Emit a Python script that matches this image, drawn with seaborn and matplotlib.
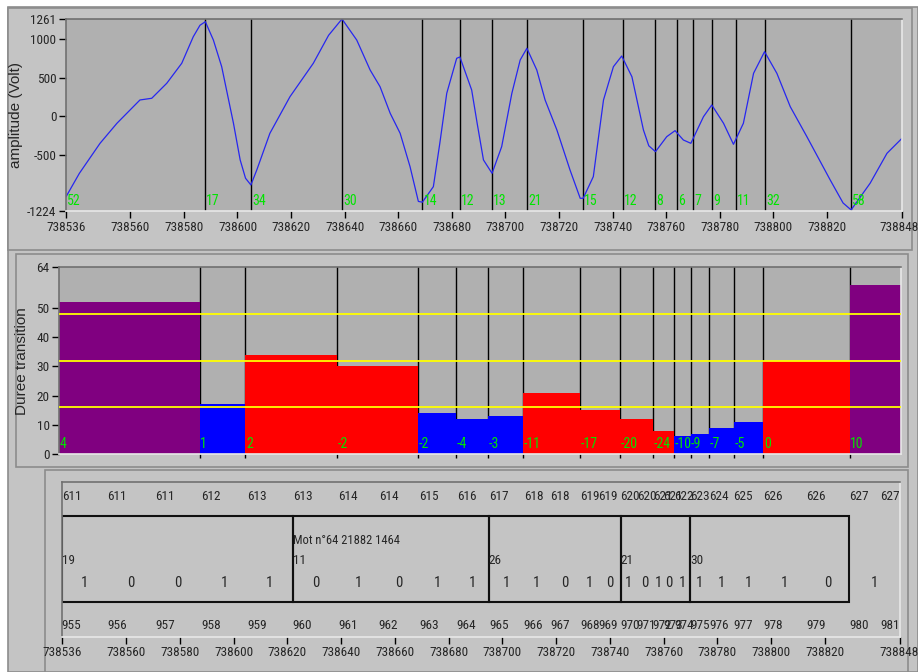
import matplotlib
matplotlib.use("Agg")
import pandas as pd
import seaborn as sns
import matplotlib.pyplot as plt
from matplotlib.patches import Rectangle
from matplotlib import font_manager
from matplotlib.transforms import ScaledTranslation

# ---- waveform (sample position, amplitude in Volt) ----
sample_pos = [738536, 738541, 738548.7, 738555, 738563.6, 738568, 738573.6, 738579.2,
              738583.5, 738586, 738588, 738591, 738594.1, 738598.5, 738601, 738603,
              738605, 738607.2, 738612.1, 738619.6, 738628.3, 738634, 738639, 738644.5,
              738649.5, 738653.2, 738657, 738660.7, 738664.4, 738667.5, 738669, 738673.1,
              738675.5, 738678.1, 738681.8, 738683, 738687.4, 738689.5, 738691.8, 738695,
              738698.6, 738702.4, 738705.5, 738708, 738711.7, 738714.8, 738719.2, 738724.1,
              738727.9, 738729, 738732.8, 738734.7, 738736.6, 738740.3, 738743.4, 738747.2,
              738751.5, 738753.5, 738756, 738760.2, 738763.3, 738766.4, 738769.2, 738773.9,
              738777, 738781.4, 738785.1, 738788.8, 738792.6, 738796.7, 738801.3, 738806.3,
              738812.5, 738821.2, 738826, 738829, 738836.1, 738842.4, 738848]
amplitude = [-1040, -736, -348, -89, 213, 235, 429, 688,
             1032, 1180, 1226, 989, 644, -89, -563, -800,
             -887, -693, -218, 256, 688, 1050, 1261, 989,
             601, 385, 40, -218, -650, -1100, -1110, -909,
             -350, 300, 752, 770, 342, -100, -563, -736,
             -391, 300, 730, 882, 601, 213, -175, -693,
             -1059, -1060, -779, -280, 213, 644, 782, 514,
             -175, -380, -456, -262, -184, -305, -348, -4,
             148, -89, -361, -89, 558, 838, 558, 126,
             -262, -822, -1120, -1210, -865, -477, -283]

# extrema found on the signal and distance to the next one
crossings = [738588, 738605, 738639, 738669, 738683, 738695, 738708, 738729,
             738744, 738756, 738764, 738770, 738777, 738786, 738797, 738829]
durations = [52, 17, 34, 30, 14, 12, 13, 21, 15, 12, 8, 6, 7, 9, 11, 32, 58]

# transition bars
bar_heights = [52, 17, 34, 30, 14, 12, 13, 21, 15, 12, 8, 6, 7, 9, 11, 32, 58]
bar_kind = ["long", "short", "mid", "mid", "short", "short", "short", "mid", "mid",
            "mid", "mid", "short", "short", "short", "short", "mid", "long"]
bar_labels = [4, 1, 2, -2, -2, -4, -3, -11, -17, -20, -24, -10, -9, -7, -5, 0, 10]
thresholds = [16, 32, 48]

# decoded bits
bit_bounds = [738536, 738553, 738570.7, 738588, 738605, 738622, 738639, 738654, 738669,
              738683, 738695, 738708, 738717.7, 738729, 738735.7, 738744, 738750, 738756,
              738760, 738764, 738770, 738777, 738786, 738797, 738813, 738829, 738848]
bit_numbers = list(range(955, 982))
symbol_numbers = [611, 611, 611, 612, 613, 613, 614, 614, 615, 616, 617, 618, 618, 619,
                  619, 620, 620, 621, 621, 622, 623, 624, 625, 626, 626, 627, 627]
bits = [1, 0, 0, 1, 1, 0, 1, 0, 1, 1, 1, 1, 0, 1, 0, 1, 0, 1, 0, 1, 1, 1, 1, 1, 0, 1]
word_bounds = [738536, 738622, 738695, 738744, 738770, 738829]
word_ids = [19, 11, 26, 21, 30]
word_title = "Mot n°64 21882 1464"

x_ticks = [738536, 738560, 738580, 738600, 738620, 738640, 738660, 738680, 738700,
           738720, 738740, 738760, 738780, 738800, 738820, 738848]
amp_ticks = [-1224, -500, 0, 500, 1000, 1261]
dur_ticks = [0, 10, 20, 30, 40, 50, 64]
x_min, x_max = 738536, 738848

PANEL = "#C4C4C4"
PLOT = "#B0B0B0"
GREEN = "#00E400"
W, H = 918, 672

# the instrument font is tall and narrow: take the most condensed face installed
entries = font_manager.fontManager.ttflist
names = {f.name for f in entries}
narrow_stretch = ("ultra-condensed", "extra-condensed", "condensed", "semi-condensed")
NARROW, STRETCH = ["DejaVu Sans"], "condensed"
for fam in ["Liberation Sans Narrow", "Roboto Condensed", "Open Sans Condensed",
            "Noto Sans Condensed", "Arial Narrow"]:
    if fam in names:
        NARROW, STRETCH = [fam, "DejaVu Sans"], "normal"
        break
else:
    for fam in ["Noto Sans", "Open Sans", "Roboto"]:
        if any(f.name == fam and f.stretch in narrow_stretch for f in entries):
            NARROW, STRETCH = [fam, "DejaVu Sans"], "extra-condensed"
            break

sns.set_style("ticks")
plt.rcParams["font.family"] = NARROW
plt.rcParams["font.stretch"] = STRETCH
plt.rcParams["font.size"] = 9

fig = plt.figure(figsize=(W / 100, H / 100), dpi=100, facecolor="white")


def frac(x0, y0, x1, y1):
    return [x0 / W, 1 - y1 / H, (x1 - x0) / W, (y1 - y0) / H]


def frame(x0, y0, x1, y1, face=PANEL):
    l, b, w, h = frac(x0, y0, x1, y1)
    fig.add_artist(Rectangle((l, b), w, h, transform=fig.transFigure,
                             facecolor=face, edgecolor="#8C8C8C", lw=1.2, zorder=0))


frame(8, 7, 918, 672)
frame(8, 8, 912, 250)
frame(16, 254, 908, 467)
frame(45, 470, 908, 672)


def style_axes(ax, face):
    ax.set_facecolor(face)
    for s in ["top", "left"]:
        ax.spines[s].set_color("#707070")
    for s in ["bottom", "right"]:
        ax.spines[s].set_color("#E8E8E8")
    for s in ax.spines.values():
        s.set_linewidth(1.2)
    ax.tick_params(direction="out", length=5, width=1, color="black", pad=2,
                   labelsize=9.5)


def nudge_last_xlabel(ax, px):
    # keep the 738848 label inside the window, as the instrument does
    lab = ax.get_xticklabels()[-1]
    lab.set_transform(lab.get_transform() + ScaledTranslation(px / 100, 0, fig.dpi_scale_trans))


# ---- top panel: waveform ----
ax1 = fig.add_axes(frac(66, 19, 902, 211))
style_axes(ax1, PLOT)
wave = pd.DataFrame({"pos": sample_pos, "amp": amplitude})
sns.lineplot(data=wave, x="pos", y="amp", ax=ax1, color="#2626F0", lw=0.9)
for c in crossings:
    ax1.axvline(c, color="black", lw=1, zorder=1)
label_pos = [x_min] + crossings
for p, d in zip(label_pos, durations):
    ax1.text(p + 0.4, -1224 + 45, str(d), color=GREEN, fontsize=10,
             ha="left", va="bottom")
ax1.set_xlim(x_min, x_max)
ax1.set_ylim(-1224, 1261)
ax1.set_xticks(x_ticks)
ax1.set_xticklabels([str(t) for t in x_ticks])
ax1.set_yticks(amp_ticks)
ax1.set_yticklabels([str(t) for t in amp_ticks])
ax1.set_xlabel("")
ax1.set_ylabel("amplitude (Volt)", family=["Liberation Sans", "DejaVu Sans"],
               stretch="normal", fontsize=11, labelpad=4)
ax1.yaxis.set_label_coords(-0.052, 0.5)
nudge_last_xlabel(ax1, -3)

# ---- middle panel: transition durations ----
ax2 = fig.add_axes(frac(59.3, 267.3, 901, 454))
style_axes(ax2, PLOT)
edges = [x_min] + crossings + [x_max]
bars = pd.DataFrame({"start": edges[:-1], "height": bar_heights, "kind": bar_kind})
sns.histplot(data=bars, x="start", weights="height", hue="kind", bins=edges,
             multiple="layer", palette={"long": "#800080", "mid": "#FF0000",
                                        "short": "#0000FF"},
             alpha=1, linewidth=0, legend=False, ax=ax2, zorder=2)
for c in crossings:
    ax2.axvline(c, color="black", lw=1, zorder=1)
for t in thresholds:
    ax2.axhline(t, color="#FFFF00", lw=1.3, zorder=3)
for p, lab in zip(edges[:-1], bar_labels):
    ax2.text(p + 0.2, 1.0, str(lab), color=GREEN, fontsize=10,
             ha="left", va="bottom", zorder=4)
ax2.set_xlim(x_min, x_max)
ax2.set_ylim(0, 64)
ax2.set_xticks(crossings)
ax2.set_xticklabels([])
ax2.tick_params(axis="x", length=3)
ax2.set_yticks(dur_ticks)
ax2.set_yticklabels([str(t) for t in dur_ticks])
ax2.set_xlabel("")
ax2.set_ylabel("Duree transition", family=["Liberation Sans", "DejaVu Sans"],
               stretch="normal", fontsize=11)
ax2.yaxis.set_label_coords(-0.036, 0.5)

# ---- bottom panel: decoded words ----
ax3 = fig.add_axes(frac(61.7, 481.7, 900, 636.5))
style_axes(ax3, PANEL)
ax3.set_xlim(x_min, x_max)
ax3.set_ylim(0, 1)
ax3.set_yticks([])
ax3.set_xticks(x_ticks)
ax3.set_xticklabels([str(t) for t in x_ticks])
nudge_last_xlabel(ax3, -1)
last = len(bit_bounds) - 1
for i, (p, nb, ns) in enumerate(zip(bit_bounds, bit_numbers, symbol_numbers)):
    ha = "right" if i == last else "left"
    ax3.text(p, 0.907, str(ns), ha=ha, va="center", fontsize=9.5)
    ax3.text(p, 0.068, str(nb), ha=ha, va="center", fontsize=9.5)
for a, b, v in zip(bit_bounds[:-1], bit_bounds[1:], bits):
    ax3.text((a + b) / 2, 0.343, str(v), ha="center", va="center", fontsize=10.5)
for a, b, wid in zip(word_bounds[:-1], word_bounds[1:], word_ids):
    ax3.add_patch(Rectangle((a, 0.222), b - a, 0.558, fill=False,
                            edgecolor="#101010", lw=1.5))
    ax3.text(a, 0.49, str(wid), ha="left", va="center", fontsize=9.5)
ax3.text(word_bounds[1], 0.62, word_title, ha="left", va="center", fontsize=9)

fig.savefig("out.png", dpi=100, facecolor=fig.get_facecolor())
